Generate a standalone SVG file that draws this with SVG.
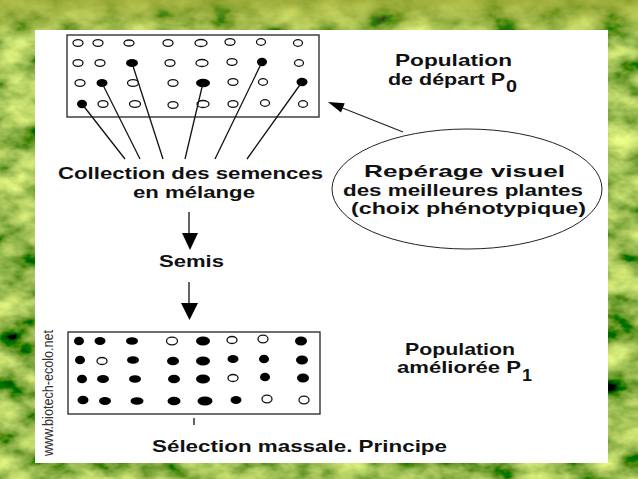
<svg xmlns="http://www.w3.org/2000/svg" width="638" height="479" viewBox="0 0 638 479">
  <defs>
    <filter id="leaf" x="0" y="0" width="100%" height="100%">
      <feTurbulence type="fractalNoise" baseFrequency="0.025 0.04" numOctaves="4" seed="7" result="n"/>
      <feColorMatrix in="n" type="matrix" values="1.45 0 0 0 -0.39  1.4 0 0 0 -0.19  0.45 0 0 0 -0.14  0 0 0 0 1"/>
    </filter>
    <linearGradient id="topband" x1="0" y1="0" x2="0" y2="1">
      <stop offset="0" stop-color="#a0a832" stop-opacity="0.7"/>
      <stop offset="1" stop-color="#a0a832" stop-opacity="0"/>
    </linearGradient>
    <style>
      .t { font-family: "Liberation Sans", Arial, sans-serif; font-weight: bold; font-size: 17px; fill: #111; }
      .sub { font-family: "Liberation Sans", Arial, sans-serif; font-weight: bold; font-size: 16px; fill: #111; }
      .o { fill: #fff; stroke: #111; stroke-width: 1.3; }
      .f { fill: #000; }
      .ln { stroke: #111; stroke-width: 1.3; fill: none; }
      .box { fill: #fff; stroke: #222; stroke-width: 1.3; }
    </style>
  </defs>

  <!-- background -->
  <rect x="0" y="0" width="638" height="479" fill="#6a8a1e"/>
  <rect x="0" y="0" width="638" height="479" filter="url(#leaf)"/>
  <rect x="0" y="0" width="638" height="40" fill="url(#topband)"/>

  <!-- white panel -->
  <rect x="35" y="30" width="573" height="433" fill="#fff"/>

  <text x="53" y="456" transform="rotate(-90 53 456)" textLength="126" lengthAdjust="spacingAndGlyphs" style="font-family:'Liberation Sans',Arial,sans-serif;font-size:15px;fill:#333">www.biotech-ecolo.net</text>

  <!-- top population box -->
  <g id="population-depart">
    <rect class="box" x="67" y="35" width="252" height="82"/>
    <g>
      <ellipse class="o" cx="78" cy="43" rx="5" ry="3.3"/>
      <ellipse class="o" cx="98" cy="43" rx="5" ry="3.3"/>
      <ellipse class="o" cx="129" cy="43" rx="5" ry="3"/>
      <ellipse class="o" cx="168" cy="43" rx="5" ry="3.3"/>
      <ellipse class="o" cx="201" cy="43" rx="6" ry="3.5"/>
      <ellipse class="o" cx="230" cy="42" rx="5" ry="3.3"/>
      <ellipse class="o" cx="261" cy="42" rx="4.5" ry="3.3"/>
      <ellipse class="o" cx="298" cy="43" rx="4.5" ry="3.3"/>

      <ellipse class="o" cx="78" cy="63" rx="5" ry="3.3"/>
      <ellipse class="o" cx="100" cy="63" rx="5" ry="3.3"/>
      <ellipse class="f" cx="132" cy="63" rx="6" ry="4"/>
      <ellipse class="o" cx="170" cy="63" rx="5" ry="3.3"/>
      <ellipse class="o" cx="202" cy="63" rx="6" ry="3.5"/>
      <ellipse class="o" cx="232" cy="62" rx="5" ry="3.3"/>
      <ellipse class="f" cx="262" cy="62" rx="5" ry="4.2"/>
      <ellipse class="o" cx="299" cy="63" rx="4.5" ry="3.3"/>

      <ellipse class="o" cx="80" cy="83" rx="5" ry="3.3"/>
      <ellipse class="f" cx="102" cy="83" rx="5.5" ry="4"/>
      <ellipse class="o" cx="133" cy="83" rx="5.5" ry="3.3"/>
      <ellipse class="o" cx="173" cy="83" rx="5" ry="3.3"/>
      <ellipse class="f" cx="203" cy="83" rx="7" ry="4.2"/>
      <ellipse class="o" cx="233" cy="82" rx="5" ry="3.3"/>
      <ellipse class="o" cx="263" cy="82" rx="4.5" ry="3.3"/>
      <ellipse class="f" cx="302" cy="82" rx="5.5" ry="4.2"/>

      <ellipse class="f" cx="82" cy="104" rx="5" ry="4.2"/>
      <ellipse class="o" cx="103" cy="104" rx="5" ry="3.3"/>
      <ellipse class="o" cx="135" cy="104" rx="5.5" ry="3.3"/>
      <ellipse class="o" cx="173" cy="105" rx="5" ry="3.3"/>
      <ellipse class="o" cx="203" cy="104" rx="6" ry="3.5"/>
      <ellipse class="o" cx="233" cy="104" rx="5" ry="3.3"/>
      <ellipse class="o" cx="265" cy="103" rx="4.5" ry="3.3"/>
      <ellipse class="o" cx="303" cy="104" rx="4.5" ry="3.3"/>
    </g>
  </g>

  <g id="label-depart">
    <text class="t" x="395" y="66" textLength="117" lengthAdjust="spacingAndGlyphs">Population</text>
    <text class="t" x="388" y="85" textLength="117" lengthAdjust="spacingAndGlyphs">de départ P</text>
    <text class="sub" x="506" y="92" textLength="11" lengthAdjust="spacingAndGlyphs">0</text>
  </g>

  <g id="reperage">
    <ellipse cx="467" cy="189" rx="135" ry="60" fill="#fff" stroke="#222" stroke-width="1"/>
    <text class="t" x="364" y="177" textLength="201" lengthAdjust="spacingAndGlyphs">Repérage visuel</text>
    <text class="t" x="343" y="195.5" textLength="240" lengthAdjust="spacingAndGlyphs">des meilleures plantes</text>
    <text class="t" x="351" y="214" textLength="235" lengthAdjust="spacingAndGlyphs">(choix phénotypique)</text>
  </g>

  <g id="collection">
    <text class="t" x="58" y="179" textLength="265" lengthAdjust="spacingAndGlyphs">Collection des semences</text>
    <text class="t" x="133" y="198" textLength="122" lengthAdjust="spacingAndGlyphs">en mélange</text>
  </g>

  <g id="semis">
    <text class="t" x="159" y="267" textLength="65" lengthAdjust="spacingAndGlyphs">Semis</text>
  </g>

  <!-- bottom population box -->
  <g id="population-amelioree">
    <rect class="box" x="68" y="332" width="252" height="82"/>
    <g>
      <ellipse class="f" cx="79" cy="341" rx="5" ry="4.3"/>
      <ellipse class="f" cx="100" cy="341" rx="5.5" ry="4"/>
      <ellipse class="f" cx="132" cy="341" rx="6" ry="3.8"/>
      <ellipse class="o" cx="172" cy="341" rx="5.5" ry="3.8"/>
      <ellipse class="f" cx="203" cy="341" rx="7" ry="4.5"/>
      <ellipse class="o" cx="232" cy="340" rx="5" ry="3.5"/>
      <ellipse class="o" cx="263" cy="339" rx="5" ry="3.8"/>
      <ellipse class="f" cx="301" cy="341" rx="6" ry="4.5"/>

      <ellipse class="f" cx="80" cy="360" rx="5" ry="4.3"/>
      <ellipse class="o" cx="102" cy="361" rx="5" ry="3.5"/>
      <ellipse class="f" cx="133" cy="360" rx="6" ry="3.8"/>
      <ellipse class="f" cx="173" cy="361" rx="6" ry="4.3"/>
      <ellipse class="f" cx="203" cy="361" rx="7" ry="4.5"/>
      <ellipse class="f" cx="233" cy="359" rx="5.5" ry="4"/>
      <ellipse class="f" cx="264" cy="359" rx="5" ry="4.3"/>
      <ellipse class="f" cx="302" cy="360" rx="6" ry="4.5"/>

      <ellipse class="f" cx="82" cy="379" rx="5" ry="4.3"/>
      <ellipse class="f" cx="103" cy="379" rx="6" ry="4"/>
      <ellipse class="f" cx="135" cy="379" rx="6" ry="3.8"/>
      <ellipse class="f" cx="174" cy="379" rx="6" ry="4.3"/>
      <ellipse class="f" cx="203" cy="379" rx="7" ry="4.5"/>
      <ellipse class="o" cx="233" cy="378" rx="5" ry="3.5"/>
      <ellipse class="f" cx="265" cy="377" rx="5" ry="4.3"/>
      <ellipse class="f" cx="303" cy="378" rx="6" ry="4.5"/>

      <ellipse class="f" cx="83" cy="400" rx="5.5" ry="4.3"/>
      <ellipse class="f" cx="105" cy="401" rx="6" ry="4"/>
      <ellipse class="f" cx="137" cy="401" rx="6.5" ry="3.8"/>
      <ellipse class="f" cx="174" cy="401" rx="6.5" ry="4.3"/>
      <ellipse class="f" cx="205" cy="401" rx="7.5" ry="4.5"/>
      <ellipse class="f" cx="236" cy="400" rx="5.5" ry="4"/>
      <ellipse class="o" cx="267" cy="399" rx="5" ry="3.8"/>
      <ellipse class="o" cx="304" cy="400" rx="5" ry="3.8"/>
    </g>
  </g>

  <g id="label-amelioree">
    <text class="t" x="405" y="355" textLength="110" lengthAdjust="spacingAndGlyphs">Population</text>
    <text class="t" x="397" y="373" textLength="124" lengthAdjust="spacingAndGlyphs">améliorée P</text>
    <text class="sub" x="522" y="381" textLength="10" lengthAdjust="spacingAndGlyphs">1</text>
  </g>

  <g id="titre">
    <text class="t" x="152" y="452" textLength="295" lengthAdjust="spacingAndGlyphs">Sélection massale. Principe</text>
  </g>

  <!-- connectors -->
  <g id="connectors">
    <line class="ln" x1="82" y1="104" x2="125" y2="159"/>
    <line class="ln" x1="102" y1="83" x2="140" y2="159"/>
    <line class="ln" x1="132" y1="63" x2="163" y2="159"/>
    <line class="ln" x1="203" y1="83" x2="185" y2="159"/>
    <line class="ln" x1="262" y1="62" x2="215" y2="159"/>
    <line class="ln" x1="302" y1="82" x2="247" y2="159"/>

    <line x1="403" y1="132" x2="340" y2="107" stroke="#222" stroke-width="1.2"/>
    <polygon points="328,102 344.7,103.3 341,112.5" fill="#000"/>

    <line class="ln" x1="189" y1="212" x2="189" y2="234"/>
    <polygon points="182,233 198,233 190,250" fill="#000"/>

    <line class="ln" x1="189" y1="282" x2="189" y2="304"/>
    <polygon points="181,303 198,303 189.5,320" fill="#000"/>

    <line class="ln" x1="194" y1="418" x2="194" y2="425"/>
  </g>
</svg>
